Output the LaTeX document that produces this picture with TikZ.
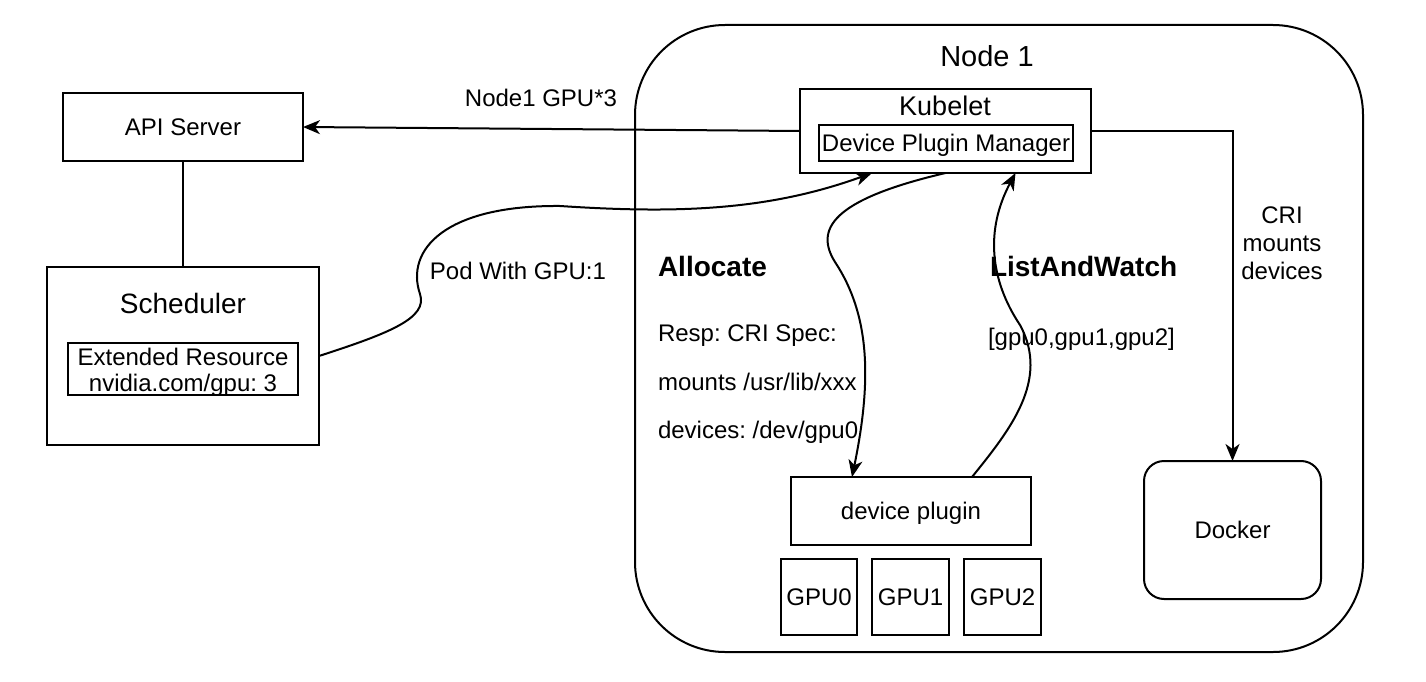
\documentclass[tikz,border=0pt]{standalone}
\usepackage{fontspec}
\setmainfont{Liberation Sans}
\usetikzlibrary{arrows.meta}
\frenchspacing
\begin{document}
\begin{tikzpicture}[x=1pt,y=-1pt,
  every node/.style={font=\fontsize{24}{26}\selectfont, inner sep=0pt, outer sep=0pt},
  box/.style={draw, line width=2pt},
  lbl/.style={text height=17pt, text depth=0pt},
  conn/.style={line width=2pt},
  arr/.style={line width=2pt, -{Stealth[length=17pt,width=14pt,inset=5pt]}}]
\useasboundingbox (0,0) rectangle (1426,682);

% Node 1 container
\node[box, rounded corners=90pt, minimum width=728pt, minimum height=627pt] (node1) at (999,338.5) {};
\node[lbl, font=\fontsize{29}{32}\selectfont] (node1title) at (987,58) {Node 1};

% left side
\node[box, lbl, minimum width=240pt, minimum height=68pt] (api) at (183,127) {API Server};
\node[box, minimum width=272pt, minimum height=178pt] (sched) at (183,356) {};
\node[lbl, font=\fontsize{28}{30}\selectfont] (schedtitle) at (183,305) {Scheduler};
\node[box, minimum width=230pt, minimum height=52pt] (ext) at (183,369) {};
\node[align=center, font=\fontsize{24}{26}\selectfont] (exttext) at (183,372) {Extended Resource\\nvidia.com/gpu: 3};

% Kubelet
\node[box, minimum width=291pt, minimum height=84pt] (kubelet) at (945.5,131) {};
\node[lbl, font=\fontsize{27}{30}\selectfont] (kubetitle) at (945,107) {Kubelet};
\node[box, lbl, minimum width=254pt, minimum height=36pt] (dpm) at (946,143) {Device Plugin Manager};

% device plugin and GPUs
\node[box, lbl, minimum width=240pt, minimum height=68pt] (dp) at (911,511) {device plugin};
\node[box, lbl, minimum width=76pt, minimum height=76pt] (gpu0) at (819,597) {GPU0};
\node[box, lbl, minimum width=77pt, minimum height=76pt] (gpu1) at (910.5,597) {GPU1};
\node[box, lbl, minimum width=77pt, minimum height=76pt] (gpu2) at (1002.5,597) {GPU2};

% Docker
\node[box, lbl, rounded corners=20pt, minimum width=177pt, minimum height=138pt] (docker) at (1232.5,530) {Docker};

% texts
\node[lbl, font=\fontsize{28}{30}\selectfont\bfseries, anchor=west] (alloc) at (658,268) {Allocate};
\node[lbl, anchor=west] (resp) at (658,333) {Resp: CRI Spec:};
\node[lbl, anchor=west] (mounts) at (658,382) {mounts /usr/lib/xxx};
\node[lbl, anchor=west] (devs) at (658,430) {devices: /dev/gpu0};
\node[lbl, font=\fontsize{28}{30}\selectfont\bfseries, anchor=west] (law) at (990,268) {ListAndWatch};
\node[lbl, anchor=west] (gpulist) at (988,337) {[gpu0,gpu1,gpu2]};
\node[lbl] (n1gpu) at (541,98) {Node1 GPU*3};
\node[lbl] (podlbl) at (518,271) {Pod With GPU:1};
\node[align=center, font=\fontsize{24}{28}\selectfont] (crilbl) at (1282,243) {CRI\\mounts\\devices};

% connectors
\draw[conn] (api.south) -- (sched.north);
\draw[arr] (kubelet.west) -- (api.east);
\draw[arr] (kubelet.east) -| (docker.north);
\draw[arr] (sched.east) .. controls (390,333) and (428,318) .. (420,294)
  .. controls (405,250) and (445,205) .. (560,206)
  .. controls (680,214) and (770,210) .. ([xshift=-73.5pt]kubelet.south);
\draw[arr] (kubelet.south) .. controls (830,200) and (815,230) .. (835,262)
  .. controls (870,315) and (872,380) .. ([xshift=-59pt]dp.north);
\draw[arr] ([xshift=61pt]dp.north) .. controls (1010,430) and (1050,380) .. (1020,325)
  .. controls (990,280) and (985,230) .. ([xshift=70pt]kubelet.south);
\end{tikzpicture}
\end{document}
